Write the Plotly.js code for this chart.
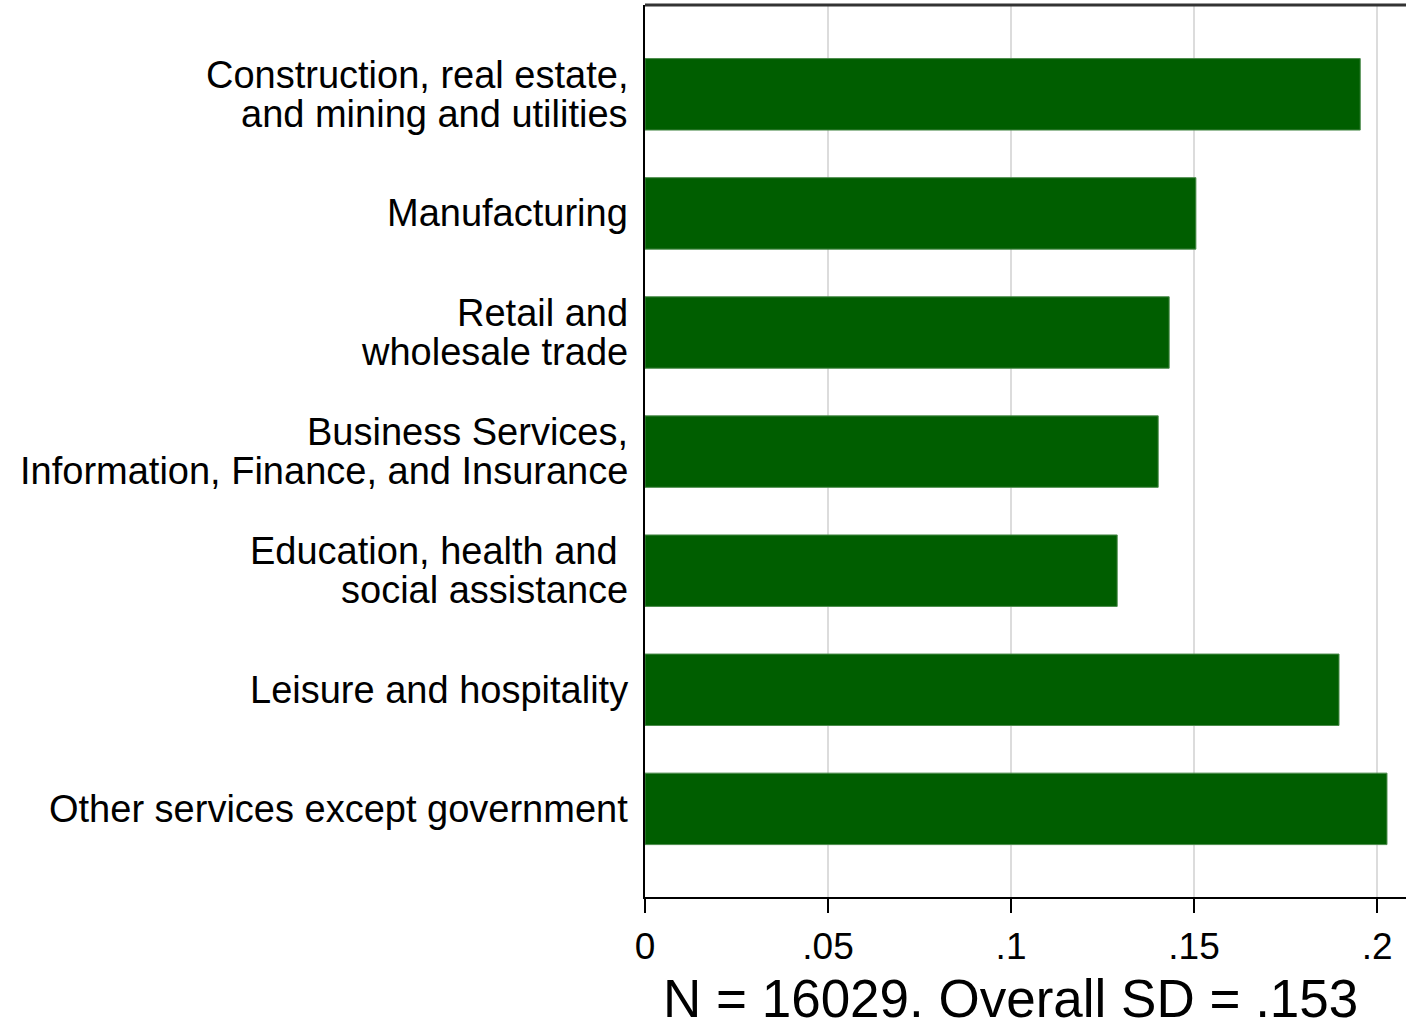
<!DOCTYPE html>
<html>
<head>
<meta charset="utf-8">
<script src="https://cdn.plot.ly/plotly-3.0.1.min.js"></script>
<style>html,body{margin:0;padding:0;background:#fff;}#chart{width:1406px;height:1027px;}</style>
</head>
<body>
<div id="chart"></div>
<script>
const categories = [
  "Construction, real estate,<br>and mining and utilities",
  "Manufacturing",
  "Retail and<br>wholesale trade",
  "Business Services,<br>Information, Finance, and Insurance",
  "Education, health and <br>social assistance",
  "Leisure and hospitality",
  "Other services except government"
];
const values = [0.1954, 0.1505, 0.1432, 0.1402, 0.1290, 0.1896, 0.2027];
const xTickVals = [0, 0.05, 0.1, 0.15, 0.2];
const xTickText = ["0", ".05", ".1", ".15", ".2"];
const xTitle = "N = 16029. Overall SD = .153";

const FONT = "Liberation Sans, Arial, sans-serif";
const LABEL_SIZE = 38;
const LINE_GAP = 39;

const trace = {
  type: "bar",
  orientation: "h",
  y: categories,
  x: values,
  width: 0.6,
  marker: {color: "#005e00", line: {color: "#4a8a4a", width: 1}},
  hoverinfo: "skip"
};

// category labels drawn line by line to control the line spacing
const annotations = [];
categories.forEach(function (cat) {
  const lines = cat.split("<br>");
  const n = lines.length;
  lines.forEach(function (ln, i) {
    annotations.push({
      xref: "paper", yref: "y", x: 0, y: cat,
      text: ln.replace(/ $/, "&nbsp;"),
      showarrow: false, xanchor: "right", yanchor: "middle",
      xshift: -15, yshift: ((n - 1) / 2 - i) * LINE_GAP,
      font: {family: FONT, size: LABEL_SIZE, color: "#000"}
    });
  });
});
annotations.push({
  xref: "paper", yref: "paper", x: 0.5, y: 0, xanchor: "center", yanchor: "top",
  xshift: -15, yshift: -70,
  text: xTitle, showarrow: false,
  font: {family: FONT, size: 53, color: "#000"}
});

const layout = {
  width: 1406, height: 1027,
  margin: {l: 645, r: 0, t: 5, b: 130, pad: 0},
  paper_bgcolor: "#fff", plot_bgcolor: "#fff",
  showlegend: false,
  font: {family: FONT, color: "#000"},
  xaxis: {
    range: [0, 0.2079],
    tickvals: xTickVals, ticktext: xTickText,
    tickfont: {size: 37},
    ticks: "outside", ticklen: 14, tickwidth: 2, tickcolor: "#000",
    ticklabelstandoff: 2,
    showgrid: true, gridcolor: "#dcdcdc", gridwidth: 2,
    showline: true, linecolor: "#000", linewidth: 2, mirror: false,
    zeroline: false
  },
  yaxis: {
    autorange: false, range: [6.74, -0.75],
    type: "category",
    showticklabels: false,
    ticks: "",
    showgrid: false,
    showline: true, linecolor: "#000", linewidth: 2,
    zeroline: false
  },
  annotations: annotations,
  shapes: [{type: "line", xref: "paper", yref: "paper", x0: 0, x1: 1, y0: 1, y1: 1,
            line: {color: "#333", width: 3}}]
};

Plotly.newPlot("chart", [trace], layout, {displayModeBar: false, staticPlot: true});
</script>
</body>
</html>
